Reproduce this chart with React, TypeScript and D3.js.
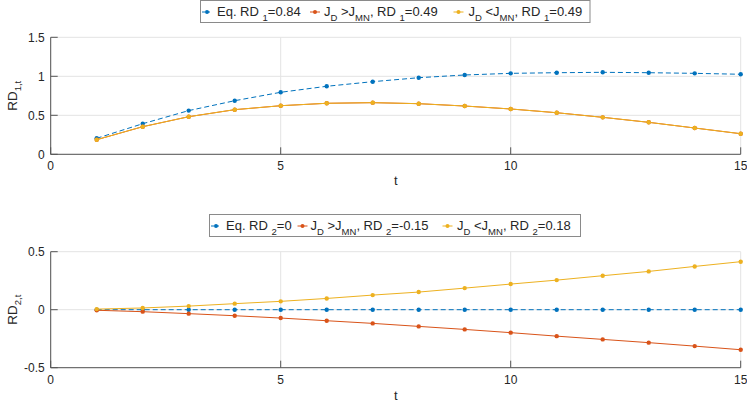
import React from "react";
import * as d3 from "d3";

// ---------- data ----------
const tValues = [1, 2, 3, 4, 5, 6, 7, 8, 9, 10, 11, 12, 13, 14, 15];

const rd1Eq = [0.205, 0.392, 0.56, 0.687, 0.795, 0.872, 0.931, 0.982, 1.017, 1.038, 1.046, 1.051, 1.046, 1.038, 1.026];
const rd1High = [0.187, 0.354, 0.482, 0.572, 0.623, 0.654, 0.662, 0.649, 0.619, 0.581, 0.533, 0.474, 0.41, 0.337, 0.264];
const rd1Low = [0.187, 0.354, 0.482, 0.572, 0.623, 0.654, 0.662, 0.649, 0.619, 0.581, 0.533, 0.474, 0.41, 0.337, 0.264];

const rd2Eq = [0, 0, 0, 0, 0, 0, 0, 0, 0, 0, 0, 0, 0, 0, 0];
const rd2High = [-0.005, -0.017, -0.034, -0.052, -0.072, -0.095, -0.118, -0.144, -0.17, -0.198, -0.228, -0.256, -0.284, -0.314, -0.345];
const rd2Low = [0.005, 0.015, 0.031, 0.052, 0.072, 0.097, 0.126, 0.152, 0.186, 0.221, 0.255, 0.293, 0.33, 0.373, 0.414];

const xTicks = [0, 5, 10, 15];
const y1Ticks = [0, 0.5, 1, 1.5];
const y1TickLabels = ["0", "0.5", "1", "1.5"];
const y2Ticks = [-0.5, 0, 0.5];
const y2TickLabels = ["-0.5", "0", "0.5"];

// label segments: [text, isSub]
type Seg = [string, boolean];
const legend1Labels: Seg[][] = [
  [["Eq. RD ", false], ["1", true], ["=0.84", false]],
  [["J", false], ["D", true], [" >J", false], ["MN", true], [", RD ", false], ["1", true], ["=0.49", false]],
  [["J", false], ["D", true], [" <J", false], ["MN", true], [", RD ", false], ["1", true], ["=0.49", false]],
];
const legend2Labels: Seg[][] = [
  [["Eq. RD ", false], ["2", true], ["=0", false]],
  [["J", false], ["D", true], [" >J", false], ["MN", true], [", RD ", false], ["2", true], ["=-0.15", false]],
  [["J", false], ["D", true], [" <J", false], ["MN", true], [", RD ", false], ["2", true], ["=0.18", false]],
];
const yLabel1: Seg[] = [["RD", false], ["1,t", true]];
const yLabel2: Seg[] = [["RD", false], ["2,t", true]];

// ---------- style ----------
const COLORS = ["#0072BD", "#D95319", "#EDB120"];
const DASH = ["5,3", null, null];
const FONT = "'Liberation Sans', Arial, Helvetica, sans-serif";
const FS = 12;
const LEG_FS = 13;
const LEG_SUB_FS = 9.5;
const TEXT_COLOR = "#262626";
const AXIS_COLOR = "#555";
const GRID_COLOR = "#e3e3e3";

const X0 = 50.7;
const X1 = 740.7;

function RichText({ segs, x, y, anchor = "start", transform, fs = FS, subFs = 8.5, shift = 4.5 }: any) {
  let shifted = false;
  return (
    <text x={x} y={y} textAnchor={anchor} transform={transform} fontFamily={FONT} fontSize={fs} fill={TEXT_COLOR}>
      {segs.map(([s, sub]: Seg, i: number) => {
        let dy = 0;
        if (sub && !shifted) { dy = shift; shifted = true; }
        else if (!sub && shifted) { dy = -shift; shifted = false; }
        return (
          <tspan key={i} dy={dy} fontSize={sub ? subFs : fs} style={{ whiteSpace: "pre" }}>
            {s}
          </tspan>
        );
      })}
    </text>
  );
}

function Legend({ x, y, w, h, labels, itemOffsets, textOffsets }: any) {
  const cy = y + h / 2 + 0.5;
  return (
    <g>
      <rect x={x} y={y} width={w} height={h} fill="#fff" stroke="#8a8a8a" strokeWidth={1} />
      {labels.map((segs: Seg[], i: number) => {
        const lx = x + itemOffsets[i];
        return (
          <g key={i}>
            <line x1={lx} x2={lx + 10} y1={cy} y2={cy} stroke={COLORS[i]} strokeWidth={1} strokeDasharray={DASH[i] ? "3,2" : undefined} />
            <circle cx={lx + 5} cy={cy} r={2} fill={COLORS[i]} />
            <RichText segs={segs} x={lx + textOffsets[i]} y={cy + 3.8} fs={LEG_FS} subFs={LEG_SUB_FS} shift={5} />
          </g>
        );
      })}
    </g>
  );
}

function Panel({ top, bottom, yDomain, yTicks, yTickLabels, series, yLabel, xLabelY }: any) {
  const x = d3.scaleLinear().domain([0, 15]).range([X0, X1]);
  const y = d3.scaleLinear().domain(yDomain).range([bottom, top]);
  const line = d3
    .line<number>()
    .x((_, i) => x(tValues[i]))
    .y((d) => y(d));
  return (
    <g>
      {/* grid */}
      {xTicks.map((t) => (
        <line key={"gx" + t} x1={x(t)} x2={x(t)} y1={top} y2={bottom} stroke={GRID_COLOR} strokeWidth={1} />
      ))}
      {yTicks.map((t: number) => (
        <line key={"gy" + t} x1={X0} x2={X1} y1={y(t)} y2={y(t)} stroke={GRID_COLOR} strokeWidth={1} />
      ))}
      {/* series */}
      {series.map((vals: number[], i: number) => (
        <g key={"s" + i}>
          <path d={line(vals) || ""} fill="none" stroke={COLORS[i]} strokeWidth={1} strokeDasharray={DASH[i] || undefined} />
          {vals.map((v, j) => (
            <circle key={j} cx={x(tValues[j])} cy={y(v)} r={2.2} fill={COLORS[i]} />
          ))}
        </g>
      ))}
      {/* axes */}
      <line x1={X0} x2={X0} y1={top} y2={bottom} stroke={AXIS_COLOR} strokeWidth={1} />
      <line x1={X0} x2={X1} y1={bottom} y2={bottom} stroke={AXIS_COLOR} strokeWidth={1} />
      {xTicks.map((t) => (
        <g key={"xt" + t}>
          <line x1={x(t)} x2={x(t)} y1={bottom} y2={bottom - 7} stroke={AXIS_COLOR} strokeWidth={1} />
          <text x={x(t)} y={bottom + 16} textAnchor="middle" fontFamily={FONT} fontSize={FS} fill={TEXT_COLOR}>
            {t}
          </text>
        </g>
      ))}
      {yTicks.map((t: number, i: number) => (
        <g key={"yt" + t}>
          <line x1={X0} x2={X0 + 7} y1={y(t)} y2={y(t)} stroke={AXIS_COLOR} strokeWidth={1} />
          <text x={X0 - 6} y={y(t) + 4.3} textAnchor="end" fontFamily={FONT} fontSize={FS} fill={TEXT_COLOR}>
            {yTickLabels[i]}
          </text>
        </g>
      ))}
      <RichText
        segs={yLabel}
        x={0}
        y={0}
        anchor="middle"
        fs={13.5}
        subFs={9.5}
        shift={4.5}
        transform={`translate(16.5,${(top + bottom) / 2}) rotate(-90)`}
      />
      <text x={(X0 + X1) / 2} y={xLabelY} textAnchor="middle" fontFamily={FONT} fontSize={13} fill={TEXT_COLOR}>
        t
      </text>
    </g>
  );
}

export default function App() {
  return (
    <svg
      width={747}
      height={401}
      viewBox="0 0 747 401"
      style={{ position: "absolute", left: 0, top: 0, background: "#fff", display: "block" }}
    >
      <rect x={0} y={0} width={747} height={401} fill="#fff" />
      <Panel
        top={37.3}
        bottom={154.3}
        yDomain={[0, 1.5]}
        yTicks={y1Ticks}
        yTickLabels={y1TickLabels}
        series={[rd1Eq, rd1High, rd1Low]}
        yLabel={yLabel1}
        xLabelY={185}
      />
      <Panel
        top={251.7}
        bottom={367.7}
        yDomain={[-0.5, 0.5]}
        yTicks={y2Ticks}
        yTickLabels={y2TickLabels}
        series={[rd2Eq, rd2High, rd2Low]}
        yLabel={yLabel2}
        xLabelY={399.5}
      />
      <Legend x={200.5} y={0.5} w={389.5} h={22} labels={legend1Labels} itemOffsets={[1.5, 109.5, 253]} textOffsets={[15, 14, 15]} />
      <Legend x={209.5} y={214.5} w={371} h={22} labels={legend2Labels} itemOffsets={[1.5, 88, 233]} textOffsets={[15, 13, 14.5]} />
    </svg>
  );
}
